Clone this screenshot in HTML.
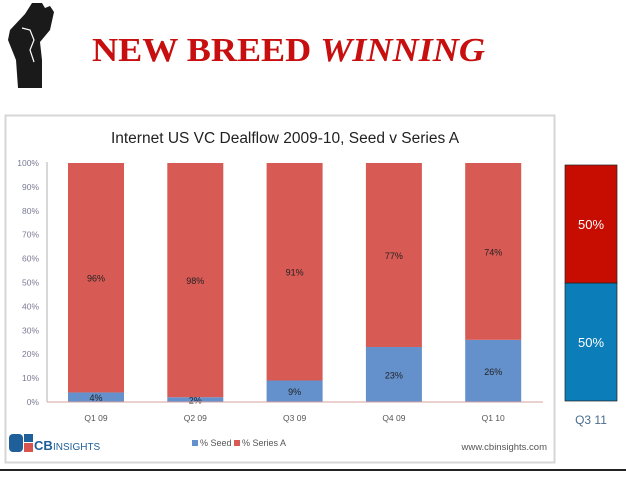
<!DOCTYPE html>
<html><head><meta charset="utf-8"><style>
body{margin:0;background:#fff;width:626px;height:472px;overflow:hidden;font-family:"Liberation Sans",sans-serif}
</style></head><body>
<svg width="626" height="472" viewBox="0 0 626 472" xmlns="http://www.w3.org/2000/svg">
<g>
<path d="M25 14 L32 3 L42 3 L45 8 L50 6 L54 12 L50 30 L40 42 L42 60 L42 88 L18 88 L16 60 L8 40 L10 30 Z" fill="#1a1a1a"/>
<path d="M22 28 L30 30 L34 40 L30 50 L34 62" stroke="#fff" stroke-width="1.2" fill="none"/>
</g>
<text x="92" y="61" font-family="Liberation Serif,serif" font-weight="bold" font-size="34" fill="#c80f0f" textLength="393" lengthAdjust="spacingAndGlyphs">NEW BREED  <tspan font-style="italic">WINNING</tspan></text>
<rect x="5.5" y="115.5" width="549" height="347" fill="#fff" stroke="#d6d6d6" stroke-width="2"/>
<text x="285" y="143" text-anchor="middle" font-size="15.5" fill="#222">Internet US VC Dealflow 2009-10, Seed v Series A</text>
<g id="chart"></g>
<line x1="0" y1="470" x2="626" y2="470" stroke="#222" stroke-width="2"/>
<g>
<rect x="9" y="434" width="14" height="18" rx="4" fill="#1f5f9a"/>
<rect x="24" y="434" width="9" height="8" fill="#1f5f9a"/>
<rect x="24" y="443" width="9" height="9" fill="#d9534f"/>
<text x="34" y="450" font-size="13" font-weight="bold" fill="#1f5f9a">CB</text>
<text x="53" y="450" font-size="10" fill="#1f5f9a">INSIGHTS</text>
</g>
<g>
<rect x="192" y="440" width="6" height="6" fill="#6490cc"/>
<text x="200" y="446" font-size="9" fill="#555">% Seed</text>
<rect x="234" y="440" width="6" height="6" fill="#d85a55"/>
<text x="242" y="446" font-size="9" fill="#555">% Series A</text>
</g>
<text x="547" y="450" text-anchor="end" font-size="9.5" fill="#555">www.cbinsights.com</text>
<g id="side"></g>
</svg>
<script>
const categories=["Q1 09","Q2 09","Q3 09","Q4 09","Q1 10"];
const seed=[4,2,9,23,26];
const seriesA=[96,98,91,77,74];
const yTicks=[0,10,20,30,40,50,60,70,80,90,100];
const sideCategory="Q3 11";
const sideSeed=[50];
const sideSeriesA=[50];
const NS="http://www.w3.org/2000/svg";
const y0=402,y1=163;
const y=v=>y0-(v/100)*(y0-y1);
const x=i=>68+i*99.3;
const bw=56;
function mk(t,a,p){const e=document.createElementNS(NS,t);for(const k in a)e.setAttribute(k,a[k]);p.appendChild(e);return e;}
const g=document.getElementById('chart');
yTicks.forEach(v=>{
 const t=mk('text',{x:39,y:y(v)+3,'text-anchor':'end','font-size':'8.5',fill:'#7a7a95'},g);
 
 
 t.textContent=v+'%';
});
const ax=mk('line',{x1:47,y1:y1-1,x2:47,y2:y0,stroke:'#ccc','stroke-width':1.5},g);


categories.forEach((c,i)=>{
 const s=seed[i],a=seriesA[i];
 const r1=mk('rect',{x:x(i),y:y(s),width:bw,height:y0-y(s),fill:'#6490cc'},g);
 
 
 const r2=mk('rect',{x:x(i),y:y(s+a),width:bw,height:y(s)-y(s+a),fill:'#d85a55'},g);
 
 
 const l1=mk('text',{x:x(i)+bw/2,y:(y(s)+y0)/2+4,'text-anchor':'middle','font-size':'9',fill:'#222'},g);
 
 
 l1.textContent=s+'%';
 const l2=mk('text',{x:x(i)+bw/2,y:(y(s)+y(s+a))/2+4,'text-anchor':'middle','font-size':'9',fill:'#222'},g);
 
 
 l2.textContent=a+'%';
 const cl=mk('text',{x:x(i)+bw/2,y:421,'text-anchor':'middle','font-size':'8.5',fill:'#555'},g);
 
 
 cl.textContent=c;
});
const base=mk('line',{x1:47,y1:y0,x2:543,y2:y0,stroke:'#d7a0a0','stroke-width':1},g);


const sg=document.getElementById('side');
const sy0=401,sy1=165,sy=v=>sy0-(v/100)*(sy0-sy1);
const sx=565,sw=52;
const b1=mk('rect',{x:sx,y:sy(sideSeed[0]),width:sw,height:sy0-sy(sideSeed[0]),fill:'#0b7db8',stroke:'#222','stroke-width':0.7},sg);


const b2=mk('rect',{x:sx,y:sy(sideSeed[0]+sideSeriesA[0]),width:sw,height:sy(sideSeed[0])-sy(sideSeed[0]+sideSeriesA[0]),fill:'#c70d02',stroke:'#222','stroke-width':0.7},sg);


const t1=mk('text',{x:sx+sw/2,y:(sy0+sy(sideSeed[0]))/2+5,'text-anchor':'middle','font-size':'13',fill:'#fff'},sg);


t1.textContent=sideSeed[0]+'%';
const t2=mk('text',{x:sx+sw/2,y:(sy(sideSeed[0])+sy(sideSeed[0]+sideSeriesA[0]))/2+5,'text-anchor':'middle','font-size':'13',fill:'#fff'},sg);


t2.textContent=sideSeriesA[0]+'%';
const t3=mk('text',{x:sx+sw/2,y:424,'text-anchor':'middle','font-size':'12',fill:'#4a6e8c'},sg);


t3.textContent=sideCategory;
</script>
</body></html>
